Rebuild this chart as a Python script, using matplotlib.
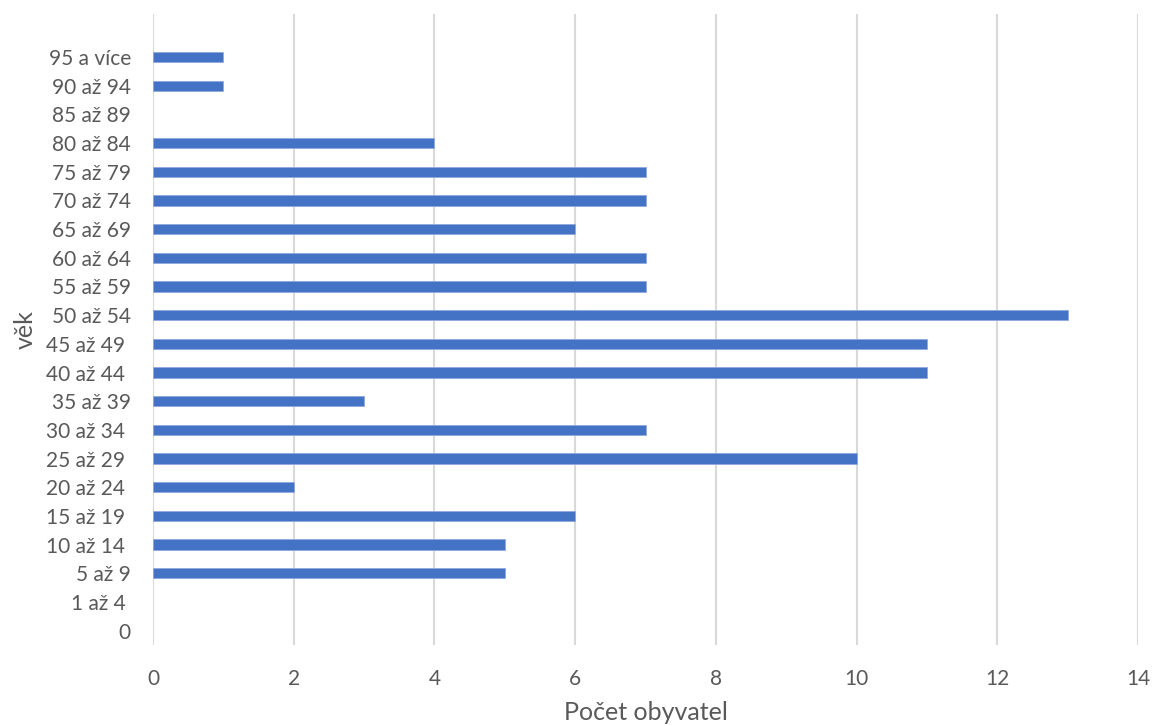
import matplotlib
matplotlib.use('Agg')
from matplotlib import pyplot as plt

# data
vek = ['0', '1 až 4 ', '5 až 9', '10 až 14 ', '15 až 19 ', '20 až 24 ', '25 až 29 ',
       '30 až 34 ', '35 až 39', '40 až 44 ', '45 až 49 ', '50 až 54', '55 až 59',
       '60 až 64', '65 až 69', '70 až 74', '75 až 79', '80 až 84', '85 až 89',
       '90 až 94', '95 a více']
pocet = [0, 0, 5, 5, 6, 2, 10, 7, 3, 11, 11, 13, 7, 7, 6, 7, 7, 4, 0, 1, 1]
xticks = [0, 2, 4, 6, 8, 10, 12, 14]

plt.rcParams['font.family'] = ['Lato', 'DejaVu Sans']
textColor = '#595959'

fig = plt.figure(figsize=(11.55, 7.26), dpi=100)
ax = fig.add_axes([153 / 1155, 1 - 645 / 726, 985 / 1155, 631 / 726])

bars = ax.barh(range(len(vek)), pocet, height=0.36, color='#4472C4',
               edgecolor='#8FAADC', linewidth=0.6, zorder=3)
for b, v in zip(bars, pocet):    # nulové sloupce bez okraje
    if v == 0:
        b.set_linewidth(0)

ax.set_xlim(0, 14)
ax.set_ylim(-0.5, len(vek) + 0.5)
ax.set_xticks(xticks)
ax.set_xticklabels([str(t) for t in xticks])
ax.set_yticks(range(len(vek)))
ax.set_yticklabels(vek)
ax.tick_params(axis='both', length=0, labelsize=15, colors=textColor)
ax.tick_params(axis='x', pad=17)
ax.tick_params(axis='y', pad=16)

ax.grid(axis='x', color='#D9D9D9', linewidth=1.5, zorder=0)
for s in ax.spines.values():    # bez rámečku
    s.set_visible(False)

ax.set_xlabel('Počet obyvatel', fontsize=18, color=textColor)
ax.set_ylabel('věk', fontsize=18, color=textColor)
ax.xaxis.set_label_coords(0.5, -0.088)
ax.yaxis.set_label_coords(-0.118, 0.5)

fig.savefig('out.png', dpi=100)
